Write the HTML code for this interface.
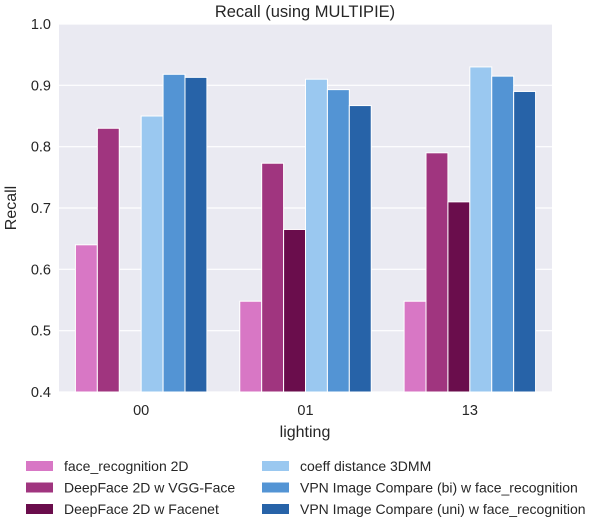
<!DOCTYPE html>
<html><head><meta charset="utf-8"><style>
body{margin:0;background:#fff;font-family:"Liberation Sans","DejaVu Sans",sans-serif;}
svg text{font-family:"Liberation Sans","DejaVu Sans",sans-serif;fill:#262626;}
</style></head><body>
<svg id="chart" width="595" height="524">
<rect x="59" y="24" width="493" height="368" fill="#eaeaf2"/>
<g id="grid"></g><g id="bars"></g><g id="axes"></g><g id="legend"></g>
<text x="305" y="17" text-anchor="middle" font-size="16.5">Recall (using MULTIPIE)</text>
<text x="305" y="437" text-anchor="middle" font-size="16">lighting</text>
<text transform="translate(16,208) rotate(-90)" text-anchor="middle" font-size="16">Recall</text>
</svg>
<script>
const categories=["00","01","13"];
const seriesNames=["face_recognition 2D","DeepFace 2D w VGG-Face","DeepFace 2D w Facenet","coeff distance 3DMM","VPN Image Compare (bi) w face_recognition","VPN Image Compare (uni) w face_recognition"];
const faceRec=[0.64,0.548,0.548];
const vggFace=[0.83,0.773,0.79];
const facenet=[null,0.665,0.71];
const coeff3dmm=[0.85,0.91,0.93];
const vpnBi=[0.918,0.893,0.915];
const vpnUni=[0.913,0.867,0.89];
const yTicks=[0.4,0.5,0.6,0.7,0.8,0.9,1.0];
const series=[faceRec,vggFace,facenet,coeff3dmm,vpnBi,vpnUni];
const colors=["#d877c5","#a0357f","#6a0d4c","#9ac8f0","#5394d4","#2763a8"];
const NS="http://www.w3.org/2000/svg";
const X0=59,X1=552,Y0=392,Y1=24,ymin=0.4,ymax=1.0;
const y=v=>Y0-(v-ymin)/(ymax-ymin)*(Y0-Y1);
const gw=(X1-X0)/categories.length,bw=gw*0.8/series.length;
const gx=i=>X0+gw*(i+0.5);
function mk(t,a,p){const e=document.createElementNS(NS,t);for(const k in a)e.setAttribute(k,a[k]);p.appendChild(e);return e;}
const grid=document.getElementById('grid'),axes=document.getElementById('axes'),bars=document.getElementById('bars'),leg=document.getElementById('legend');
yTicks.forEach(v=>{
 const l=mk('line',{x1:X0,x2:X1,y1:y(v),y2:y(v),stroke:'#fff','stroke-width':1.2},grid);
 
 
 const t=mk('text',{x:X0-8,y:y(v)+5,'text-anchor':'end','font-size':14.5},axes);t.textContent=v.toFixed(1);
 
 
});
categories.forEach((c,i)=>{
 const t=mk('text',{x:gx(i),y:415,'text-anchor':'middle','font-size':14.5},axes);t.textContent=c;
 
 
 series.forEach((s,j)=>{
  const v=s[i];if(v==null)return;
  const x=gx(i)-gw*0.4+j*bw;
  const r=mk('rect',{x:x,y:y(v),width:bw,height:Y0-y(v),fill:colors[j],stroke:'#fff','stroke-width':1},bars);
  
  
 });
});
seriesNames.forEach((n,j)=>{
 const col=Math.floor(j/3),row=j%3;
 const lx=col?262:26,ly=466+row*21.5;
 const r=mk('rect',{x:lx,y:ly-5,width:27,height:10,fill:colors[j]},leg);
 
 
 const t=mk('text',{x:lx+38,y:ly+5,'font-size':14},leg);t.textContent=n;
 
 
});
</script>
</body></html>
